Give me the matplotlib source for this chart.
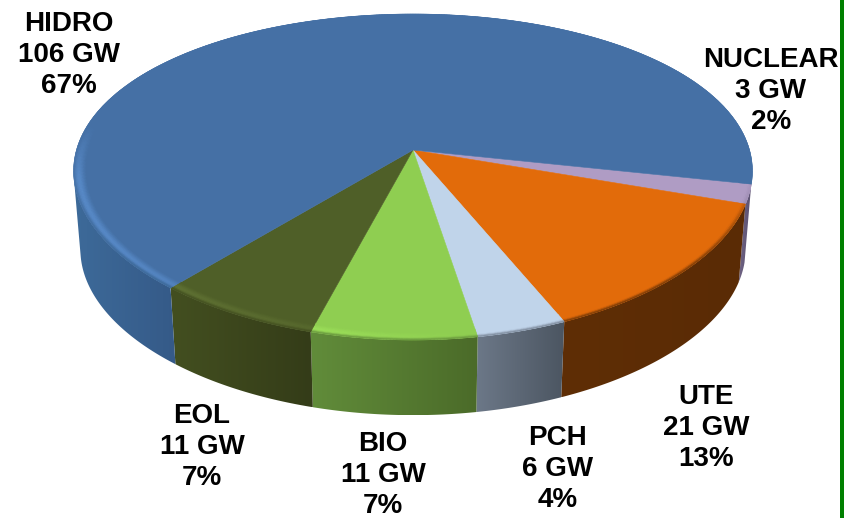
#!/usr/bin/env python3
# -*- coding: utf-8 -*-

import numpy as np
from matplotlib import pyplot as plt
from matplotlib.collections import PolyCollection
from matplotlib.colors import to_rgb
from matplotlib.patches import Polygon

# Installed capacity by source, clockwise from the right of the disc
names = ["NUCLEAR", "UTE", "PCH", "BIO", "EOL", "HIDRO"]
gw = [3, 21, 6, 11, 11, 106]
pct = [2, 13, 4, 7, 7, 67]

top_colors = ["#af9cc4", "#e26b0a", "#c0d4ea", "#8fce51", "#4f5f28", "#4570a5"]
side_left = ["#6f6383", "#5f2e06", "#6c7888", "#618c3a", "#434f20", "#3d6a99"]
side_right = ["#5a5070", "#5a2b05", "#4c5662", "#4b6b29", "#343c18", "#355a88"]

label_xy = [(771, 91), (706, 428), (558, 469), (383, 475), (202, 447), (69, 55)]

# Pie geometry in pixels: apex of the slices and tilt of the disc
CX, CY = 413.0, 150.0
RX = 336.5
RY = 158.5
TILT = 0.1656
TILT_X = 0.13
DEPTH = 79.0
BASE_SCALE = 0.98
START = -12.0


def project(t, r=1.0):
    """Disc point at angle t (deg) and radius r, seen in perspective."""
    t = np.radians(t)
    x = r * np.cos(t)
    y = r * np.sin(t)
    return RX * x / (1 + TILT_X * y), -RY * y / (1 + TILT * y)


def top_xy(t, r=1.0):
    x, y = project(t, r)
    return np.column_stack([CX + x, CY + y])


def base_xy(t):
    x, y = project(t)
    return np.column_stack([CX + x * BASE_SCALE, CY + y * BASE_SCALE + DEPTH])


def mix(a, b, f):
    return np.array(a) * (1 - f) + np.array(b) * f


fig = plt.figure(figsize=(8.49, 5.18), dpi=100)
ax = fig.add_axes([0, 0, 1, 1])
ax.set_xlim(0, 849)
ax.set_ylim(518, 0)
ax.axis("off")

# Slice angles run clockwise from the start angle
sweep = np.array(gw) / sum(gw) * 360
edges = START - np.concatenate([[0], np.cumsum(sweep)])

# Side wall, painted with a horizontal gradient clipped to each slice
for i in range(6):
    # only the front of the wall can be seen, up to the widest point on the left
    t0 = max(edges[i + 1], -170)
    t1 = edges[i]
    t = np.linspace(t0, t1, 200)
    poly = np.vstack([top_xy(t), base_xy(t)[::-1]])
    xmin, xmax = poly[:, 0].min(), poly[:, 0].max()
    ymin, ymax = poly[:, 1].min(), poly[:, 1].max()
    ramp = np.linspace(to_rgb(side_left[i]), to_rgb(side_right[i]), 64)[None, :, :]
    img = ax.imshow(
        ramp,
        extent=(xmin, xmax, ymax, ymin),
        aspect="auto",
        interpolation="bilinear",
        zorder=2,
    )
    img.set_clip_path(Polygon(poly, transform=ax.transData))
ax.set_xlim(0, 849)
ax.set_ylim(518, 0)

# Top face of the disc
for i in range(6):
    t = np.linspace(edges[i + 1], edges[i], 300)
    pts = np.vstack([[CX, CY], top_xy(t)])
    ax.add_patch(
        Polygon(pts, closed=True, fc=top_colors[i], ec=top_colors[i], lw=0.4, zorder=3)
    )

# Rounded rim: narrow band along the disc edge
quads, shades = [], []
levels = np.linspace(0.962, 1.0, 11)
for i in range(6):
    base = to_rgb(top_colors[i])
    wall = to_rgb(side_left[i])
    hi = tuple(min(1, c * 1.16 + 0.03) for c in base)
    n = max(int(sweep[i] * 2), 4)
    ts = np.linspace(edges[i + 1], edges[i], n + 1)
    for a, b in zip(ts[:-1], ts[1:]):
        mid = (a + b) / 2
        s = np.sin(np.radians(mid))
        front = np.clip(-s * 3 + 0.5, 0, 1)
        to_wall = np.clip(-s * 2 - 0.3, 0, 1)
        gloss = np.clip(-np.cos(np.radians(mid)) + 0.15, 0, 1)
        for k, (r0, r1) in enumerate(zip(levels[:-1], levels[1:])):
            f = (k + 0.5) / (len(levels) - 1)
            c = mix(base, hi, gloss * np.sin(np.pi * f**1.5) * front)
            c = mix(c, wall, to_wall * max(0, f - 0.72) * 3.5 * 0.9)
            q = np.vstack(
                [
                    top_xy(np.array([a, b]), r0),
                    top_xy(np.array([b, a]), r1),
                ]
            )
            quads.append(q)
            shades.append(np.clip(c, 0, 1))
rim = PolyCollection(quads, facecolors=shades, edgecolors=shades, linewidths=0.3, zorder=4)
ax.add_collection(rim)

# Data labels
for name, g, p, (x, y) in zip(names, gw, pct, label_xy):
    ax.text(
        x,
        y,
        f"{name}\n{g} GW\n{p}%",
        ha="center",
        va="center",
        family=["Liberation Sans", "DejaVu Sans"],
        fontsize=20,
        fontweight="bold",
        color="black",
        linespacing=1.27,
        zorder=6,
    )

# Green rule at the right margin
ax.axvspan(840, 844, color="#008000", lw=0, zorder=5)

fig.savefig("out.png", dpi=100)
